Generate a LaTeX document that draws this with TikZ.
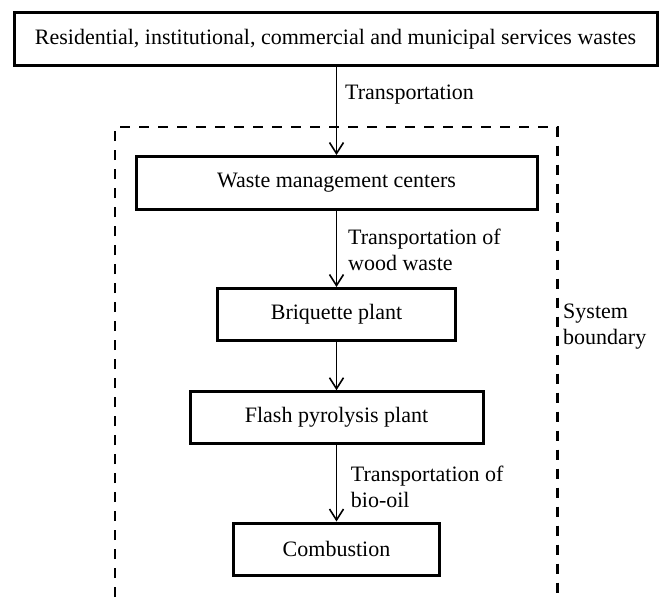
\documentclass[tikz,border=0pt]{standalone}
\usepackage{fontspec}
\setmainfont{Liberation Serif}
\usetikzlibrary{arrows.meta}
\tikzset{
  x=1pt, y=1pt,
  boxnode/.style={draw, line width=3pt, minimum height=52pt, inner sep=0pt,
    font=\fontsize{22}{26}\selectfont},
  lbl/.style={anchor=west, inner sep=0pt, align=left,
    font=\fontsize{22}{26}\selectfont},
  arr/.style={line width=1.6pt, -{Straight Barb[length=11pt,width=14pt,line width=1.6pt]}},
  boundary/.style={line width=2.8pt, dash pattern=on 10pt off 9pt}
}
\begin{document}
\begin{tikzpicture}
\useasboundingbox (0,0) rectangle (660,-597);
\node[boxnode, minimum width=643pt, minimum height=53pt] (src) at (335.5,-39.2) {Residential, institutional, commercial and municipal services wastes};
\node[boxnode, minimum width=401pt, minimum height=53pt] (wmc) at (336.5,-183) {Waste management centers};
\node[boxnode, minimum width=237.5pt] (briq) at (336.5,-314.5) {Briquette plant};
\node[boxnode, minimum width=293pt] (flash) at (336.5,-417.7) {Flash pyrolysis plant};
\node[boxnode, minimum width=205.5pt] (comb) at (336.5,-549) {Combustion};

\coordinate (bl) at (115,-597);
\coordinate (tl) at (115,-127);
\coordinate (tr) at (557.5,-127);
\coordinate (br) at (557.5,-597);
\draw[boundary] (bl) -- (tl) -- (tr) -- (br);

\draw[arr] (src.south -| wmc.north) -- (wmc.north);
\draw[arr] (wmc) -- (briq);
\draw[arr] (briq) -- (flash);
\draw[arr] (flash) -- (comb);

\node[lbl] (l1) at (345,-95) {Transportation};
\node[lbl] (l2) at (348,-249.7) {Transportation of\\wood waste};
\node[lbl] (l3) at (350.7,-486.7) {Transportation of\\bio-oil};
\node[lbl] (l4) at (563,-327) {System\\boundary};
\end{tikzpicture}
\end{document}
